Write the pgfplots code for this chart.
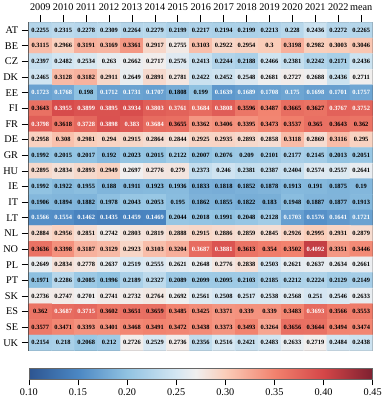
\documentclass[border=0pt]{standalone}
\usepackage{fontspec}
\setmainfont{Liberation Serif}
\usepackage{pgfplots}
\usepackage{pgfplotstable}
\pgfplotsset{compat=1.18}
\pgfplotstableread[row sep=\\]{
x y v\\
0 0 0.2255\\1 0 0.2315\\2 0 0.2278\\3 0 0.2309\\4 0 0.2264\\5 0 0.2279\\6 0 0.2199\\7 0 0.2217\\8 0 0.2194\\9 0 0.2199\\10 0 0.2213\\11 0 0.228\\12 0 0.2436\\13 0 0.2272\\14 0 0.2265\\
0 1 0.3115\\1 1 0.2966\\2 1 0.3191\\3 1 0.3169\\4 1 0.3361\\5 1 0.2917\\6 1 0.2755\\7 1 0.3103\\8 1 0.2922\\9 1 0.2954\\10 1 0.3\\11 1 0.3198\\12 1 0.2982\\13 1 0.3003\\14 1 0.3046\\
0 2 0.2397\\1 2 0.2482\\2 2 0.2534\\3 2 0.263\\4 2 0.2662\\5 2 0.2717\\6 2 0.2576\\7 2 0.2413\\8 2 0.2244\\9 2 0.2188\\10 2 0.2466\\11 2 0.2381\\12 2 0.2242\\13 2 0.2171\\14 2 0.2436\\
0 3 0.2465\\1 3 0.3128\\2 3 0.3182\\3 3 0.2911\\4 3 0.2649\\5 3 0.2891\\6 3 0.2781\\7 3 0.2422\\8 3 0.2452\\9 3 0.2548\\10 3 0.2681\\11 3 0.2727\\12 3 0.2688\\13 3 0.2436\\14 3 0.2711\\
0 4 0.1723\\1 4 0.1768\\2 4 0.198\\3 4 0.1712\\4 4 0.1731\\5 4 0.1707\\6 4 0.1808\\7 4 0.199\\8 4 0.1639\\9 4 0.1689\\10 4 0.1708\\11 4 0.175\\12 4 0.1698\\13 4 0.1701\\14 4 0.1757\\
0 5 0.3643\\1 5 0.3955\\2 5 0.3899\\3 5 0.3895\\4 5 0.3934\\5 5 0.3803\\6 5 0.3761\\7 5 0.3684\\8 5 0.3808\\9 5 0.3596\\10 5 0.3487\\11 5 0.3665\\12 5 0.3627\\13 5 0.3767\\14 5 0.3752\\
0 6 0.3798\\1 6 0.3618\\2 6 0.3728\\3 6 0.3898\\4 6 0.383\\5 6 0.3684\\6 6 0.3655\\7 6 0.3362\\8 6 0.3406\\9 6 0.3395\\10 6 0.3473\\11 6 0.3537\\12 6 0.365\\13 6 0.3643\\14 6 0.362\\
0 7 0.2958\\1 7 0.308\\2 7 0.2981\\3 7 0.294\\4 7 0.2915\\5 7 0.2864\\6 7 0.2844\\7 7 0.2925\\8 7 0.2935\\9 7 0.2893\\10 7 0.2858\\11 7 0.3118\\12 7 0.2869\\13 7 0.3116\\14 7 0.295\\
0 8 0.1992\\1 8 0.2015\\2 8 0.2017\\3 8 0.192\\4 8 0.2023\\5 8 0.2015\\6 8 0.2122\\7 8 0.2007\\8 8 0.2076\\9 8 0.209\\10 8 0.2101\\11 8 0.2177\\12 8 0.2145\\13 8 0.2013\\14 8 0.2051\\
0 9 0.2895\\1 9 0.2834\\2 9 0.2893\\3 9 0.2949\\4 9 0.2697\\5 9 0.2776\\6 9 0.279\\7 9 0.2373\\8 9 0.246\\9 9 0.2381\\10 9 0.2387\\11 9 0.2404\\12 9 0.2574\\13 9 0.2557\\14 9 0.2641\\
0 10 0.1992\\1 10 0.1922\\2 10 0.1955\\3 10 0.188\\4 10 0.1911\\5 10 0.1923\\6 10 0.1936\\7 10 0.1833\\8 10 0.1818\\9 10 0.1852\\10 10 0.1878\\11 10 0.1913\\12 10 0.191\\13 10 0.1875\\14 10 0.19\\
0 11 0.1906\\1 11 0.1894\\2 11 0.1882\\3 11 0.1978\\4 11 0.2043\\5 11 0.2053\\6 11 0.195\\7 11 0.1862\\8 11 0.1855\\9 11 0.1822\\10 11 0.183\\11 11 0.1948\\12 11 0.1887\\13 11 0.1877\\14 11 0.1913\\
0 12 0.1566\\1 12 0.1554\\2 12 0.1462\\3 12 0.1435\\4 12 0.1459\\5 12 0.1469\\6 12 0.2044\\7 12 0.2018\\8 12 0.1991\\9 12 0.2048\\10 12 0.2128\\11 12 0.1703\\12 12 0.1576\\13 12 0.1641\\14 12 0.1721\\
0 13 0.2884\\1 13 0.2956\\2 13 0.2851\\3 13 0.2742\\4 13 0.2803\\5 13 0.2819\\6 13 0.2888\\7 13 0.2915\\8 13 0.2886\\9 13 0.2859\\10 13 0.2845\\11 13 0.2926\\12 13 0.2995\\13 13 0.2931\\14 13 0.2879\\
0 14 0.3636\\1 14 0.3398\\2 14 0.3187\\3 14 0.3129\\4 14 0.2923\\5 14 0.3103\\6 14 0.3204\\7 14 0.3687\\8 14 0.3881\\9 14 0.3613\\10 14 0.354\\11 14 0.3502\\12 14 0.4092\\13 14 0.3351\\14 14 0.3446\\
0 15 0.2649\\1 15 0.2834\\2 15 0.2778\\3 15 0.2637\\4 15 0.2519\\5 15 0.2555\\6 15 0.2621\\7 15 0.2648\\8 15 0.2776\\9 15 0.2838\\10 15 0.2503\\11 15 0.2621\\12 15 0.2637\\13 15 0.2634\\14 15 0.2661\\
0 16 0.1971\\1 16 0.2286\\2 16 0.2085\\3 16 0.1996\\4 16 0.2189\\5 16 0.2327\\6 16 0.2089\\7 16 0.2099\\8 16 0.2095\\9 16 0.2103\\10 16 0.2185\\11 16 0.2212\\12 16 0.2224\\13 16 0.2129\\14 16 0.2149\\
0 17 0.2736\\1 17 0.2747\\2 17 0.2701\\3 17 0.2741\\4 17 0.2732\\5 17 0.2764\\6 17 0.2692\\7 17 0.2561\\8 17 0.2508\\9 17 0.2517\\10 17 0.2538\\11 17 0.2568\\12 17 0.251\\13 17 0.2546\\14 17 0.2633\\
0 18 0.362\\1 18 0.3687\\2 18 0.3715\\3 18 0.3602\\4 18 0.3651\\5 18 0.3659\\6 18 0.3485\\7 18 0.3425\\8 18 0.3371\\9 18 0.339\\10 18 0.339\\11 18 0.3483\\12 18 0.3693\\13 18 0.3566\\14 18 0.3553\\
0 19 0.3577\\1 19 0.3471\\2 19 0.3393\\3 19 0.3401\\4 19 0.3468\\5 19 0.3491\\6 19 0.3472\\7 19 0.3438\\8 19 0.3373\\9 19 0.3493\\10 19 0.3264\\11 19 0.3656\\12 19 0.3644\\13 19 0.3494\\14 19 0.3474\\
0 20 0.2154\\1 20 0.218\\2 20 0.2068\\3 20 0.212\\4 20 0.2726\\5 20 0.2529\\6 20 0.2736\\7 20 0.2356\\8 20 0.2516\\9 20 0.2421\\10 20 0.2483\\11 20 0.2633\\12 20 0.2719\\13 20 0.2484\\14 20 0.2438\\
}\heat
\begin{document}
\begin{tikzpicture}
\begin{axis}[
  scale only axis, width=352pt, height=336pt,
  xmin=-0.5, xmax=14.5, ymin=-0.5, ymax=20.5, y dir=reverse,
  enlargelimits=false,
  xtick={0,...,14},
  xticklabels={2009,2010,2011,2012,2013,2014,2015,2016,2017,2018,2019,2020,2021,2022,mean},
  ytick={0,...,20},
  yticklabels={AT,BE,CZ,DK,EE,FI,FR,DE,GR,HU,IE,IT,LT,NL,NO,PL,PT,SK,ES,SE,UK},
  xtick pos=right, xticklabel pos=right, ytick pos=left, yticklabel pos=left,
  tick align=outside, major tick length=7.5pt,
  tick style={black, line width=0.8pt},
  axis line style={draw=black!75, line width=1.2pt},
  ticklabel style={font=\fontsize{10.5}{11}\selectfont},
  xticklabel style={yshift=1.5pt},
  point meta min=0.1, point meta max=0.45,
  colormap={hm}{rgb255(0pt)=(45,85,145); rgb255(5pt)=(75,135,195); rgb255(10pt)=(145,195,226); rgb255(15pt)=(212,230,242); rgb255(17pt)=(240,239,239); rgb255(20pt)=(250,205,185); rgb255(25pt)=(242,130,110); rgb255(30pt)=(212,70,72); rgb255(35pt)=(125,32,48)},
  colorbar horizontal,
  colorbar style={
    at={(parent axis.south)}, anchor=north, yshift=-10pt,
    scale only axis, width=352pt, height=11pt,
    xtick={0.1,0.15,0.2,0.25,0.3,0.35,0.4,0.45},
    xticklabels={0.10,0.15,0.20,0.25,0.30,0.35,0.40,0.45},
    xtick pos=left, xticklabel pos=left,
    tick align=outside, major tick length=6pt,
    tick style={black, line width=0.6pt},
    axis line style={draw=black!60, line width=0.6pt},
    ticklabel style={font=\fontsize{10.5}{11}\selectfont},
  },
]
\addplot[matrix plot*, mesh/cols=15, mesh/ordering=x varies, point meta=explicit]
  table[x=x, y=y, meta=v] {\heat};
\addplot[draw=none, mark=none, point meta=explicit symbolic,
  visualization depends on={\thisrow{v} \as \val},
  nodes near coords={\ifdim\val pt>0.367pt\color{white}\else\ifdim\val pt<0.178pt\color{white}\fi\fi\pgfplotspointmeta},
  nodes near coords align=center,
  every node near coord/.append style={font=\bfseries\fontsize{6.6}{7}\selectfont, inner sep=0pt, anchor=center, text=black},
] table[x=x, y=y, meta=v] {\heat};
\end{axis}
\end{tikzpicture}
\end{document}
